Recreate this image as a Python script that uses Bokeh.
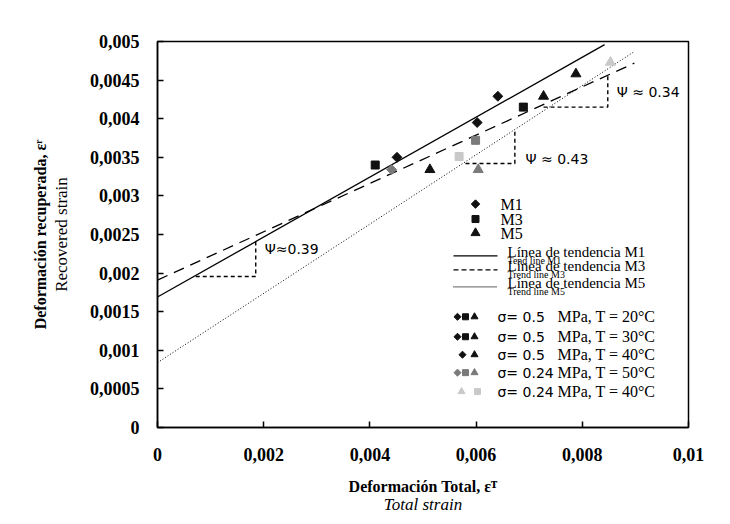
import math
from bokeh.plotting import figure
from bokeh.models import FixedTicker, LinearAxis, Range1d, CustomJSTickFormatter
from bokeh.core.properties import value
from bokeh.embed import file_html
from bokeh.resources import INLINE

# ---------------- data ----------------
# M1 (diamonds)
m1_black_x = [0.00451, 0.00602, 0.00641]
m1_black_y = [0.00350, 0.00395, 0.00429]
m1_gray_x = [0.00441]
m1_gray_y = [0.00334]
# M3 (squares)
m3_black_x = [0.00410, 0.00689]
m3_black_y = [0.00340, 0.00415]
m3_gray_x = [0.00599]
m3_gray_y = [0.00372]
m3_light_x = [0.00568]
m3_light_y = [0.00351]
# M5 (triangles)
m5_black_x = [0.00513, 0.00727, 0.00788]
m5_black_y = [0.00334, 0.00429, 0.00458]
m5_gray_x = [0.00604]
m5_gray_y = [0.00334]
m5_light_x = [0.00853]
m5_light_y = [0.00473]

# trend lines (end points)
trend_m1_x = [0.0, 0.00842]
trend_m1_y = [0.00169, 0.00496]
trend_m3_x = [0.0, 0.00898]
trend_m3_y = [0.00191, 0.00472]
trend_m5_x = [0.0, 0.00898]
trend_m5_y = [0.00084, 0.00487]

# slope triangles
psi_labels = ["\u03a8\u22480.39", "\u03a8 \u2248 0.43", "\u03a8 \u2248 0.34"]
psi_x0 = [0.00072, 0.00580, 0.00727]
psi_x1 = [0.00185, 0.00673, 0.00848]
psi_y0 = [0.001955, 0.00342, 0.00415]
psi_y1 = [0.00241, 0.00386, 0.00459]
psi_text_x = [0.00202, 0.00693, 0.00865]
psi_text_y = [0.00231, 0.003475, 0.004345]

# axes
x_ticks = [0.0, 0.002, 0.004, 0.006, 0.008, 0.01]
x_tick_labels = ["0", "0,002", "0,004", "0,006", "0,008", "0,01"]
y_ticks = [0.0, 0.0005, 0.001, 0.0015, 0.002, 0.0025, 0.003, 0.0035, 0.004, 0.0045, 0.005]
y_tick_labels = ["0", "0,0005", "0,001", "0,0015", "0,002", "0,0025", "0,003",
                 "0,0035", "0,004", "0,0045", "0,005"]

legend_series = ["M1", "M3", "M5"]
legend_lines_es = ["L\u00ednea  de tendencia  M1", "L\u00ednea  de tendencia  M3", "L\u00ednea  de tendencia  M5"]
legend_lines_en = ["Tend line M1", "Trend line M3", "Trend line M5"]
legend_cond_sigma = ["\u03c3= 0.5", "\u03c3= 0.5", "\u03c3= 0.5", "\u03c3= 0.24", "\u03c3= 0.24"]
legend_cond_rest = ["MPa, T = 20\u00b0C", "MPa, T = 30\u00b0C", "MPa, T = 40\u00b0C",
                    "MPa, T = 50\u00b0C", "MPa, T = 40\u00b0C"]

BLACK = "#111111"
GRAY = "#7a7a7a"
LIGHT = "#c9c9c9"

# ---------------- figure ----------------
W, H = 722, 516
FL, FT, FR, FB = 157, 41, 688, 428  # frame in figure pixels
FW, FH = FR - FL, FB - FT

p = figure(width=W, height=H, output_backend="svg", toolbar_location=None,
           x_range=Range1d(0, 0.01), y_range=Range1d(0, 0.005),
           min_border_left=FL, min_border_right=W - FR,
           min_border_top=FT, min_border_bottom=H - FB)
p.grid.visible = False
p.outline_line_color = "black"
p.outline_line_width = 1.5
p.background_fill_color = "white"
p.border_fill_color = "white"


def fx(px):
    return px / FW * 0.01


def fy(py):
    return (FH - py) / FH * 0.005


def tick_formatter(ticks, labels):
    return CustomJSTickFormatter(args=dict(t=ticks, l=labels), code="""
        let best = 0, bd = 1e9;
        for (let i = 0; i < t.length; i++) {
            const d = Math.abs(t[i] - tick);
            if (d < bd) { bd = d; best = i; }
        }
        return l[best];
    """)


SERIF = "Liberation Serif"
SANS = "DejaVu Sans"

for ax, ticks, labels in ((p.xaxis[0], x_ticks, x_tick_labels), (p.yaxis[0], y_ticks, y_tick_labels)):
    ax.ticker = FixedTicker(ticks=ticks)
    ax.formatter = tick_formatter(ticks, labels)
    ax.minor_tick_line_color = None
    ax.major_tick_in = 6
    ax.major_tick_out = 0
    ax.major_tick_line_width = 1.5
    ax.axis_line_width = 1.5
    ax.axis_line_color = "black"
    ax.major_label_text_font = SERIF
    ax.major_label_text_font_style = "bold"
    ax.major_label_text_font_size = "18px"
    ax.major_label_text_color = "black"
    ax.axis_label_text_color = "black"

p.xaxis[0].major_label_standoff = 20
p.yaxis[0].major_label_standoff = 18

p.xaxis[0].axis_label = "Deformaci\u00f3n Total, \u03b5\u1d40"
p.xaxis[0].axis_label_text_font = SERIF
p.xaxis[0].axis_label_text_font_style = "bold"
p.xaxis[0].axis_label_text_font_size = "16px"
p.xaxis[0].axis_label_standoff = 14

p.yaxis[0].axis_label = "Recovered strain"
p.yaxis[0].axis_label_text_font = SERIF
p.yaxis[0].axis_label_text_font_style = "normal"
p.yaxis[0].axis_label_text_font_size = "17px"
p.yaxis[0].axis_label_standoff = 16


def label_axis(text, style, size, standoff):
    a = LinearAxis(ticker=FixedTicker(ticks=[]), axis_label=text)
    a.axis_line_color = None
    a.major_tick_line_color = None
    a.minor_tick_line_color = None
    a.major_tick_out = 0
    a.major_tick_in = 0
    a.major_label_text_font_size = "0px"
    a.major_label_standoff = 0
    a.axis_label_text_font = SERIF
    a.axis_label_text_font_style = style
    a.axis_label_text_font_size = size
    a.axis_label_text_color = "black"
    a.axis_label_standoff = standoff
    return a


p.add_layout(label_axis("Total strain", "italic", "17px", -3), "below")
p.add_layout(label_axis("Deformaci\u00f3n recuperada, \u03b5\u02b3", "bold", "16px", 0), "left")

# ---------------- trend lines ----------------
p.line(trend_m1_x, trend_m1_y, line_color="black", line_width=1.3)
p.line(trend_m3_x, trend_m3_y, line_color="black", line_width=1.3, line_dash="11 7")
p.line(trend_m5_x, trend_m5_y, line_color="black", line_width=1.0, line_dash="1 2")

# ---------------- slope triangles ----------------
p.multi_line(xs=[[a, b, b] for a, b in zip(psi_x0, psi_x1)],
             ys=[[c, c, d] for c, d in zip(psi_y0, psi_y1)],
             line_color="black", line_width=1.4, line_dash="4 3")
p.text(psi_text_x, psi_text_y, text=psi_labels, text_font=value(SANS),
       text_font_size=value("14px"), text_baseline="middle", text_align="left", text_color="black")

# ---------------- points ----------------
ROT = math.pi / 4
DS, SS, TS = 7, 8, 10
p.scatter(m1_black_x, m1_black_y, marker="square", angle=ROT, size=DS, color=BLACK)
p.scatter(m1_gray_x, m1_gray_y, marker="square", angle=ROT, size=DS, color=GRAY)
p.scatter(m3_black_x, m3_black_y, marker="square", size=SS, color=BLACK)
p.scatter(m3_gray_x, m3_gray_y, marker="square", size=SS, color=GRAY)
p.scatter(m3_light_x, m3_light_y, marker="square", size=SS, color=LIGHT)
p.scatter(m5_black_x, m5_black_y, marker="triangle", size=TS, color=BLACK)
p.scatter(m5_gray_x, m5_gray_y, marker="triangle", size=TS, color=GRAY)
p.scatter(m5_light_x, m5_light_y, marker="triangle", size=TS, color=LIGHT)

# ---------------- legend (drawn by hand) ----------------
LX = 318          # marker column (frame px)
LT = 343          # text column
rows_y = [163, 178, 192]
for mk, ang, sz, yy in zip(["square", "square", "triangle"], [ROT, 0, 0], [6, SS - 1, TS - 1], rows_y):
    p.scatter([fx(LX)], [fy(yy)], marker=mk, angle=ang, size=sz, color=BLACK)
p.text([fx(LT)] * 3, [fy(y) for y in rows_y], text=legend_series, text_font=value(SERIF),
       text_font_size=value("16px"), text_baseline="middle", text_align="left", text_color="black")

line_rows = [215, 229, 246]
dashes = ["solid", "5 3", "1 1"]
for yy, dsh in zip(line_rows, dashes):
    p.line([fx(296), fx(340)], [fy(yy), fy(yy)], line_color="black", line_width=1.3, line_dash=dsh)
p.text([fx(350)] * 3, [fy(y - 4) for y in line_rows], text=legend_lines_es, text_font=value(SERIF),
       text_font_size=value("15px"), text_baseline="alphabetic", text_align="left", text_color="black")
p.text([fx(350)] * 3, [fy(y + 5) for y in line_rows], text=legend_lines_en, text_font=value(SERIF),
       text_font_size=value("10px"), text_baseline="alphabetic", text_align="left", text_color="black")

cond_y = [276, 296, 314, 332, 351]
cond_markers = [
    [("diamond", 300, BLACK), ("square", 308, BLACK), ("triangle", 317, BLACK)],
    [("diamond", 300, BLACK), ("square", 308, BLACK), ("triangle", 317, BLACK)],
    [("diamond", 305, BLACK), ("triangle", 317, BLACK)],
    [("diamond", 300, GRAY), ("square", 308, GRAY), ("triangle", 317, GRAY)],
    [("triangle", 304, LIGHT), ("square", 320, LIGHT)],
]
msize = {"diamond": 5, "square": 6, "triangle": 7}
for yy, items in zip(cond_y, cond_markers):
    for mk, xx, col in items:
        if mk == "diamond":
            p.scatter([fx(xx)], [fy(yy)], marker="square", angle=ROT, size=msize[mk], color=col)
        else:
            p.scatter([fx(xx)], [fy(yy)], marker=mk, size=msize[mk], color=col)
p.text([fx(340)] * 5, [fy(y) for y in cond_y], text=legend_cond_sigma, text_font=value(SANS),
       text_font_size=value("14px"), text_baseline="middle", text_align="left", text_color="black")
p.text([fx(400)] * 5, [fy(y) for y in cond_y], text=legend_cond_rest, text_font=value(SERIF),
       text_font_size=value("16px"), text_baseline="middle", text_align="left", text_color="black")

open("out.html", "w").write(file_html(p, INLINE))
